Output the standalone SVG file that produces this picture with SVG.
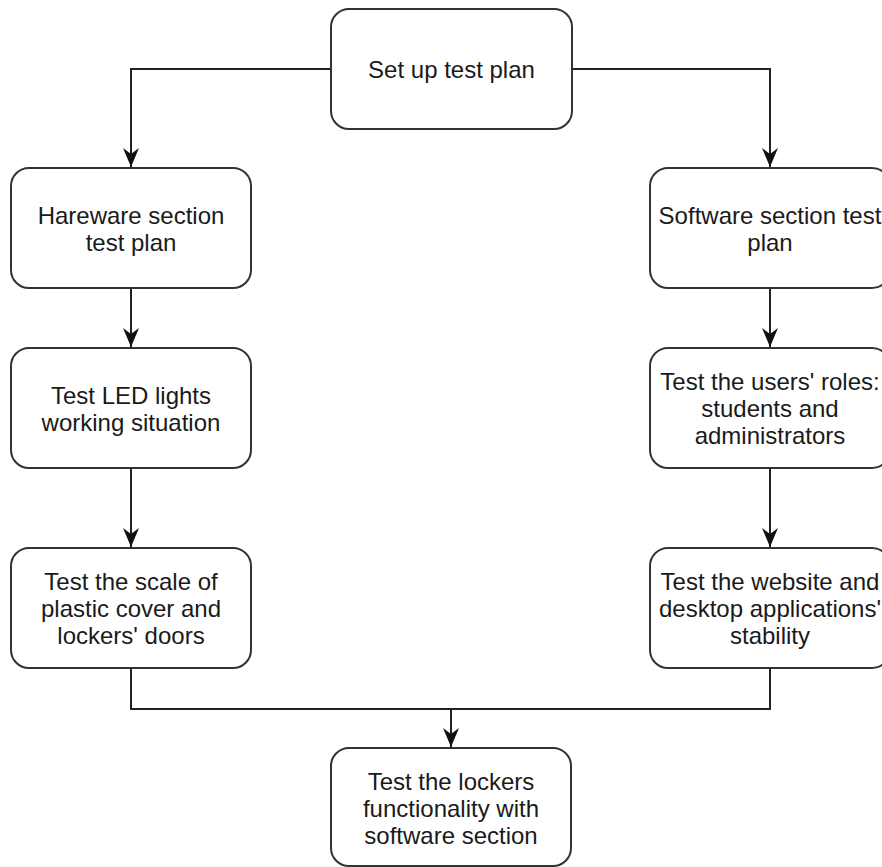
<svg xmlns="http://www.w3.org/2000/svg" width="882" height="867" viewBox="0 0 882 867">
<defs>
<style>
.box{fill:#ffffff;stroke:#333333;stroke-width:2}
.lbl{font-family:"Liberation Sans",Arial,Helvetica,sans-serif;font-size:24px;fill:#1a1a1a;text-anchor:middle}
.edge{fill:none;stroke:#222222;stroke-width:2}
</style>
<marker id="arr" markerUnits="userSpaceOnUse" markerWidth="22" markerHeight="20" viewBox="-20 -10 22 20" refX="0" refY="0" orient="auto" overflow="visible">
<path d="M0,0 L-19,-8 L-13,0 L-19,8 Z" fill="#111111"/>
</marker>
</defs>
<rect width="882" height="867" fill="#ffffff"/>
<g id="connectors">
<path class="edge" d="M331,69 H131 V167" marker-end="url(#arr)"/>
<path class="edge" d="M572,69 H770 V167" marker-end="url(#arr)"/>
<path class="edge" d="M131,288 V347" marker-end="url(#arr)"/>
<path class="edge" d="M131,468 V547" marker-end="url(#arr)"/>
<path class="edge" d="M770,288 V347" marker-end="url(#arr)"/>
<path class="edge" d="M770,468 V547" marker-end="url(#arr)"/>
<path class="edge" d="M131,668 V709 H451 V747" marker-end="url(#arr)"/>
<path class="edge" d="M770,668 V709 H451"/>
</g>
<g id="n-setup">
<rect class="box" x="331" y="9" width="241" height="120" rx="18"/>
<text class="lbl" x="451.5" y="78">Set up test plan</text>
</g>
<g id="n-hw">
<rect class="box" x="11" y="168" width="240" height="120" rx="18"/>
<text class="lbl" x="131" y="224">Hareware section</text>
<text class="lbl" x="131" y="251">test plan</text>
</g>
<g id="n-led">
<rect class="box" x="11" y="348" width="240" height="120" rx="18"/>
<text class="lbl" x="131" y="404">Test LED lights</text>
<text class="lbl" x="131" y="431">working situation</text>
</g>
<g id="n-scale">
<rect class="box" x="11" y="548" width="240" height="120" rx="18"/>
<text class="lbl" x="131" y="590">Test the scale of</text>
<text class="lbl" x="131" y="617">plastic cover and</text>
<text class="lbl" x="131" y="644">lockers' doors</text>
</g>
<g id="n-sw">
<rect class="box" x="650" y="168" width="240" height="120" rx="18"/>
<text class="lbl" x="770" y="224">Software section test</text>
<text class="lbl" x="770" y="251">plan</text>
</g>
<g id="n-roles">
<rect class="box" x="650" y="348" width="240" height="120" rx="18"/>
<text class="lbl" x="770" y="390">Test the users' roles:</text>
<text class="lbl" x="770" y="417">students and</text>
<text class="lbl" x="770" y="444">administrators</text>
</g>
<g id="n-web">
<rect class="box" x="650" y="548" width="240" height="120" rx="18"/>
<text class="lbl" x="770" y="590">Test the website and</text>
<text class="lbl" x="770" y="617">desktop applications'</text>
<text class="lbl" x="770" y="644">stability</text>
</g>
<g id="n-final">
<rect class="box" x="331" y="748" width="240" height="118" rx="18"/>
<text class="lbl" x="451" y="790">Test the lockers</text>
<text class="lbl" x="451" y="817">functionality with</text>
<text class="lbl" x="451" y="844">software section</text>
</g>
</svg>
